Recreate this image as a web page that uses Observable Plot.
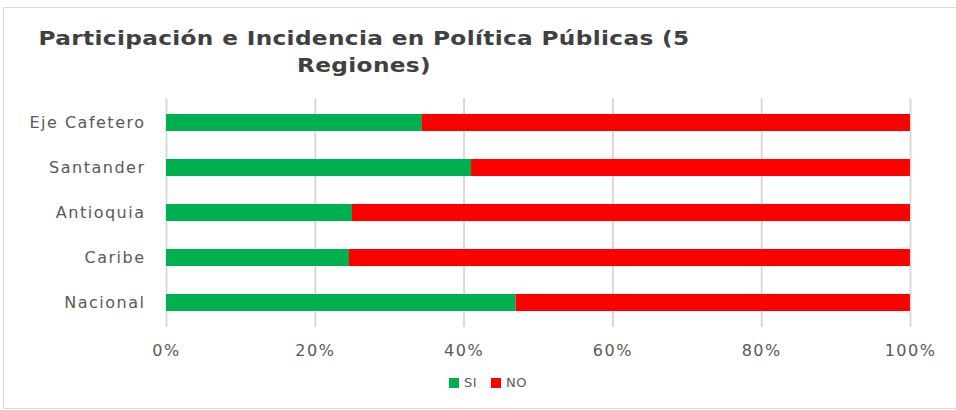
<!DOCTYPE html>
<html>
<head>
<meta charset="utf-8">
<script src="https://cdn.jsdelivr.net/npm/d3@7"></script>
<script src="https://cdn.jsdelivr.net/npm/@observablehq/plot@0.6"></script>
<style>
  body { margin: 0; background: #fff; }
  #wrap { position: relative; width: 956px; height: 410px; overflow: hidden; font-family: "DejaVu Sans", sans-serif; }
  #frame { position: absolute; left: 3px; top: 7px; width: 980px; height: 402px; border: 1.5px solid #d9d9d9; box-sizing: border-box; }
  #title { position: absolute; left: 0; width: 728px; top: 25px; text-align: center; font-weight: bold; font-size: 20px; line-height: 27px; color: #404040; letter-spacing: 0.3px; transform: scaleX(1.16); transform-origin: 364px 0; }
  #chart { position: absolute; left: 0; top: 0; }
  #legend { position: absolute; top: 375px; left: 0; width: 956px; font-size: 13px; color: #595959; letter-spacing: 0.5px; }
  .item { position: absolute; display: flex; align-items: center; }
  .sw { width: 10px; height: 10px; margin-right: 5px; }
</style>
</head>
<body>
<div id="wrap">
  <div id="frame"></div>
  <div id="title">Participación e Incidencia en Política Públicas (5<br>Regiones)</div>
  <div id="chart"></div>
  <div id="legend"></div>
</div>
<script>
const regions = ["Eje Cafetero", "Santander", "Antioquia", "Caribe", "Nacional"];
const series = ["SI", "NO"];
const siValues = [34.4, 41.0, 25.0, 24.6, 47.0];
const noValues = [65.6, 59.0, 75.0, 75.4, 53.0];
const colors = ["#00b050", "#ff0000"];
const xTicks = [0, 20, 40, 60, 80, 100];

const rows = [];
regions.forEach((r, i) => {
  rows.push({region: r, serie: "SI", value: siValues[i]});
  rows.push({region: r, serie: "NO", value: noValues[i]});
});

const chart = Plot.plot({
  width: 956,
  height: 375,
  marginTop: 98,
  marginBottom: 48,
  marginLeft: 166,
  marginRight: 46,
  style: {fontFamily: "DejaVu Sans, sans-serif", fontSize: "16px", color: "#595959", background: "transparent", letterSpacing: "1.5px"},
  x: {domain: [0, 100], ticks: xTicks, tickFormat: d => d + "%", label: null},
  y: {domain: regions, padding: 0, label: null},
  color: {domain: series, range: colors},
  marks: [
    Plot.gridX(xTicks, {stroke: "#d9d9d9", strokeOpacity: 1, strokeWidth: 2}),
    Plot.barX(rows, Plot.stackX({y: "region", x: "value", fill: "serie", order: series, insetTop: 14, insetBottom: 14})),
    Plot.axisX(xTicks, {tickSize: 0, tickPadding: 17, tickFormat: d => d + "%", fill: "#595959", fontSize: 16}),
    Plot.axisY({tickSize: 0, tickPadding: 21, fill: "#595959", fontSize: 16})
  ]
});
document.getElementById("chart").appendChild(chart);

const legend = document.getElementById("legend");
const legendX = [449, 491];
series.forEach((s, i) => {
  const it = document.createElement("div");
  it.className = "item";
  it.style.left = legendX[i] + "px";
  it.innerHTML = `<span class="sw" style="background:${colors[i]}"></span><span>${s}</span>`;
  legend.appendChild(it);
});
</script>
</body>
</html>
